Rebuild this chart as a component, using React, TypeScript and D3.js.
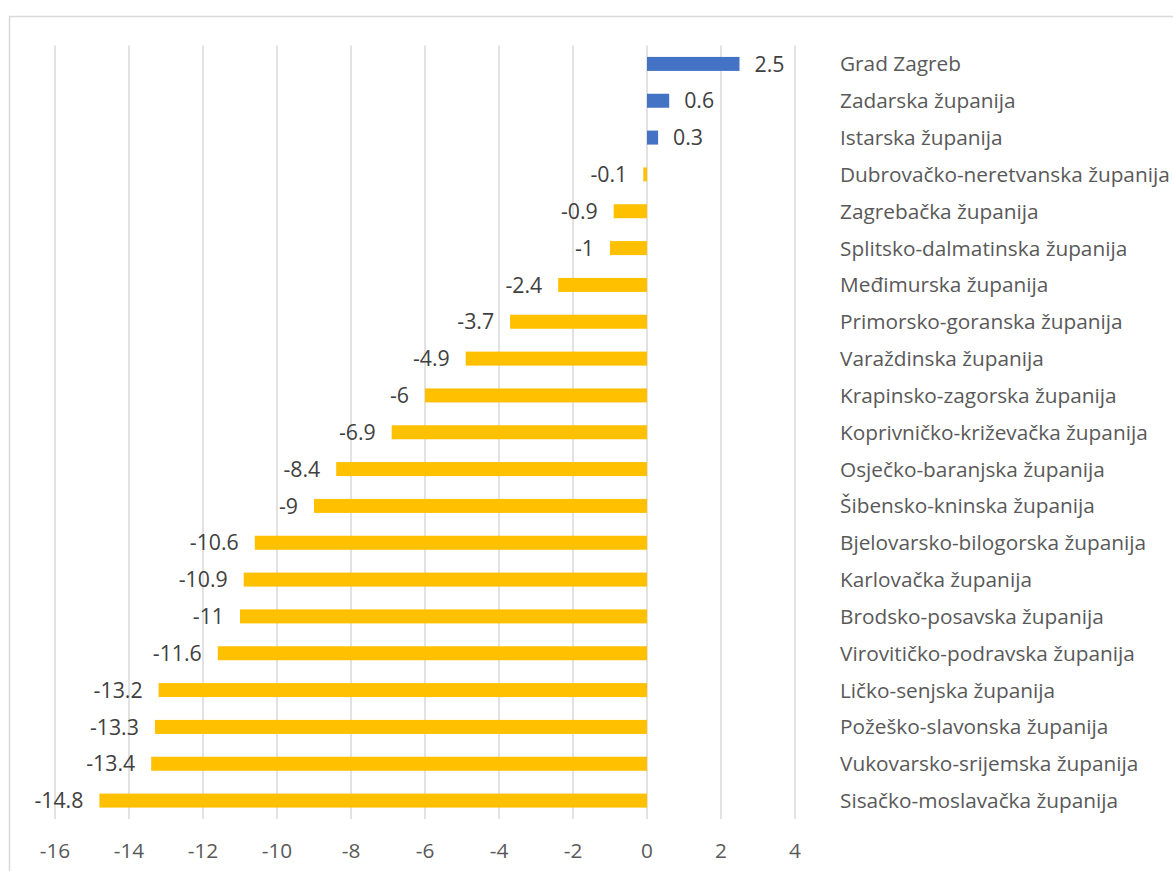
import React, { useEffect, useRef } from "react";
import * as d3 from "d3";

const counties = [
  "Grad Zagreb",
  "Zadarska županija",
  "Istarska županija",
  "Dubrovačko-neretvanska županija",
  "Zagrebačka županija",
  "Splitsko-dalmatinska županija",
  "Međimurska županija",
  "Primorsko-goranska županija",
  "Varaždinska županija",
  "Krapinsko-zagorska županija",
  "Koprivničko-križevačka županija",
  "Osječko-baranjska županija",
  "Šibensko-kninska županija",
  "Bjelovarsko-bilogorska županija",
  "Karlovačka županija",
  "Brodsko-posavska županija",
  "Virovitičko-podravska županija",
  "Ličko-senjska županija",
  "Požeško-slavonska županija",
  "Vukovarsko-srijemska županija",
  "Sisačko-moslavačka županija",
];
const values = [2.5, 0.6, 0.3, -0.1, -0.9, -1, -2.4, -3.7, -4.9, -6, -6.9, -8.4, -9, -10.6, -10.9, -11, -11.6, -13.2, -13.3, -13.4, -14.8];
const xTicks = [-16, -14, -12, -10, -8, -6, -4, -2, 0, 2, 4];

const FONT = "'Open Sans', 'Noto Sans', sans-serif";

export default function App() {
  const svgRef = useRef<SVGSVGElement>(null);

  useEffect(() => {
    const plot = { left: 55, right: 795, top: 45.5, bottom: 819 };
    const svg = d3.select(svgRef.current);
    svg.selectAll("*").remove();

    // chart frame
    svg.append("rect")
      .attr("x", 9.5).attr("y", 16.5)
      .attr("width", 1300).attr("height", 1000)
      .attr("fill", "#fff")
      .attr("stroke", "#d9d9d9")
      .attr("stroke-width", 1.5);

    const x = d3.scaleLinear().domain([-16, 4]).range([plot.left, plot.right]);
    const y = d3.scaleBand().domain(counties).range([plot.top, plot.bottom]).paddingInner(0.62).paddingOuter(0.31);

    // gridlines
    svg.append("g")
      .selectAll("line")
      .data(xTicks)
      .join("line")
      .attr("x1", d => x(d)).attr("x2", d => x(d))
      .attr("y1", plot.top).attr("y2", plot.bottom)
      .attr("stroke", "#d9d9d9")
      .attr("stroke-width", 1.5);

    // bars
    svg.append("g")
      .selectAll("rect")
      .data(values)
      .join("rect")
      .attr("x", d => x(Math.min(0, d)))
      .attr("y", (d, i) => y(counties[i])!)
      .attr("width", d => Math.abs(x(d) - x(0)))
      .attr("height", y.bandwidth())
      .attr("fill", d => d >= 0 ? "#4472c4" : "#ffc000");

    // value labels
    svg.append("g")
      .selectAll("text")
      .data(values)
      .join("text")
      .attr("x", d => d >= 0 ? x(d) + 15 : x(d) - 16)
      .attr("y", (d, i) => y(counties[i])! + y.bandwidth() / 2)
      .attr("dy", "0.36em")
      .attr("text-anchor", d => d >= 0 ? "start" : "end")
      .attr("font-family", FONT)
      .attr("font-size", 21.3)
      .attr("fill", "#404040")
      .text(d => String(d));

    // category labels
    svg.append("g")
      .selectAll("text")
      .data(counties)
      .join("text")
      .attr("x", 840)
      .attr("y", d => y(d)! + y.bandwidth() / 2)
      .attr("dy", "0.36em")
      .attr("font-family", FONT)
      .attr("font-size", 20.8)
      .attr("fill", "#595959")
      .text(d => d);

    // x tick labels
    svg.append("g")
      .selectAll("text")
      .data(xTicks)
      .join("text")
      .attr("x", d => x(d))
      .attr("y", 851)
      .attr("dy", "0.36em")
      .attr("text-anchor", "middle")
      .attr("font-family", FONT)
      .attr("font-size", 20.8)
      .attr("fill", "#595959")
      .text(d => String(d));
  }, []);

  return (
    <svg ref={svgRef} width={1173} height={871} style={{ position: "absolute", left: 0, top: 0, background: "#fff" }} />
  );
}
